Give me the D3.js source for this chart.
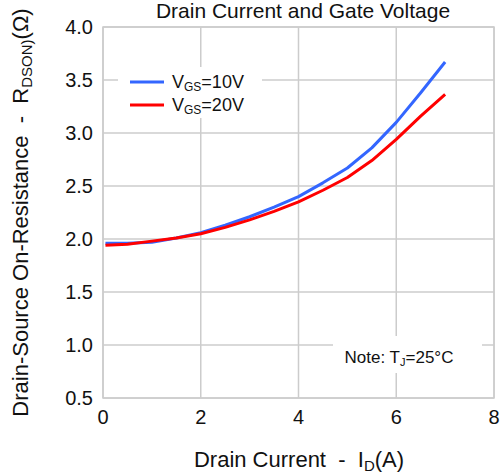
<!DOCTYPE html>
<html><head><meta charset="utf-8">
<script src="https://cdn.jsdelivr.net/npm/d3@7/dist/d3.min.js"></script>
<style>body{margin:0;background:#fff}svg{display:block;font-family:"Liberation Sans",Arial,sans-serif}text{white-space:pre}</style>
</head><body><svg id="c" width="501" height="475"></svg>
<script>
const current = [0.05,0.5,1,1.5,2,2.5,3,3.5,4,4.5,5,5.5,6,6.5,7];
const vgs10 = [1.96,1.96,1.97,2.01,2.06,2.13,2.21,2.30,2.40,2.53,2.67,2.86,3.10,3.38,3.67];
const vgs20 = [1.94,1.95,1.98,2.01,2.05,2.11,2.18,2.26,2.35,2.46,2.58,2.74,2.94,3.16,3.365];
const xTicks = [0,2,4,6,8];
const yTicks = [0.5,1.0,1.5,2.0,2.5,3.0,3.5,4.0];
const seriesNames = ["10V","20V"];
const colors = ["#3366ff","#ff0000"];

const svg = d3.select("#c");
const L=103,R=494,T=27,B=398;
const x = d3.scaleLinear().domain([0,8]).range([L,R]);
const y = d3.scaleLinear().domain([0.5,4.0]).range([B,T]);
const grid="#cccccc";

// gridlines
svg.append("g").selectAll("line").data(xTicks).join("line")
  .attr("x1",d=>x(d)).attr("x2",d=>x(d)).attr("y1",T).attr("y2",B)
  .attr("stroke",grid).attr("stroke-width",1.5);
svg.append("g").selectAll("line").data(yTicks).join("line")
  .attr("x1",L).attr("x2",R).attr("y1",d=>y(d)).attr("y2",d=>y(d))
  .attr("stroke",grid).attr("stroke-width",1.5);
svg.append("rect").attr("x",L).attr("y",T).attr("width",R-L).attr("height",B-T)
  .attr("fill","none").attr("stroke",grid).attr("stroke-width",1.5);

// tick labels
svg.append("g").selectAll("text").data(yTicks).join("text")
  .attr("x",L-10).attr("y",d=>y(d)).attr("text-anchor","end").attr("dominant-baseline","central")
  .attr("font-size",20).attr("fill","#111").text(d=>d.toFixed(1));
svg.append("g").selectAll("text").data(xTicks).join("text")
  .attr("x",d=>x(d)).attr("y",424).attr("text-anchor","middle")
  .attr("font-size",20).attr("fill","#111").text(d=>d);

// legend box & note box (cover grid)
svg.append("rect").attr("x",118).attr("y",67).attr("width",144).attr("height",51).attr("fill","#fff");
svg.append("rect").attr("x",333).attr("y",336).attr("width",149).attr("height",37).attr("fill","#fff");

// lines
const line = d3.line().x((d,i)=>x(current[i])).y(d=>y(d));
[vgs10,vgs20].forEach((s,k)=>{
  svg.append("path").datum(s).attr("d",line).attr("fill","none")
    .attr("stroke",colors[k]).attr("stroke-width",3).attr("stroke-linejoin","round");
});

// legend
seriesNames.forEach((n,k)=>{
  const ly = 82 + k*23;
  svg.append("line").attr("x1",130).attr("x2",164).attr("y1",ly).attr("y2",ly)
    .attr("stroke",colors[k]).attr("stroke-width",3);
  const t = svg.append("text").attr("x",172).attr("y",ly+6).attr("font-size",18).attr("fill","#111");
  t.append("tspan").text("V");
  t.append("tspan").attr("font-size",12).attr("dy",3).text("GS");
  t.append("tspan").attr("dy",-3).text("="+n);
});

// note
const nt = svg.append("text").attr("x",399).attr("y",363).attr("text-anchor","middle").attr("font-size",17).attr("fill","#111");
nt.append("tspan").text("Note: T");
nt.append("tspan").attr("font-size",11).attr("dy",3).text("J");
nt.append("tspan").attr("dy",-3).text("=25°C");

// title
svg.append("text").attr("x",303).attr("y",18).attr("text-anchor","middle").attr("font-size",21).attr("fill","#111")
  .text("Drain Current and Gate Voltage");

// x title
const xt = svg.append("text").attr("x",299).attr("y",467).attr("text-anchor","middle").attr("font-size",22).attr("fill","#111");
xt.append("tspan").text("Drain Current  -  I");
xt.append("tspan").attr("font-size",15).attr("dy",4).text("D");
xt.append("tspan").attr("dy",-4).text("(A)");

// y title
const yt = svg.append("text").attr("transform","translate(28,"+((T+B)/2)+") rotate(-90)")
  .attr("text-anchor","middle").attr("font-size",22).attr("fill","#111");
yt.append("tspan").text("Drain-Source On-Resistance  -  R");
yt.append("tspan").attr("font-size",15).attr("dy",4).text("DSON)");
yt.append("tspan").attr("dy",-4).text("(Ω)");
</script></body></html>
